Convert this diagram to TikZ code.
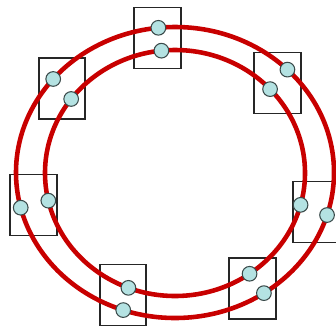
\documentclass[tikz,border=0pt]{standalone}
\usepackage{xcolor}
\usepackage{tikz}
\usetikzlibrary{calc}
\definecolor{ringred}{HTML}{C80000}
\definecolor{dotfill}{HTML}{B4E2E2}
\definecolor{dotline}{HTML}{3A4A4A}

\begin{document}
\begin{tikzpicture}[
  x=0.03cm, y=-0.03cm,
  ring/.style={draw=ringred, line width=3.9pt},
  cell/.style={draw=black!85, line width=1.5pt, minimum width=1.4cm,
               minimum height=1.83cm, inner sep=0pt},
  dot/.style={circle, draw=dotline, fill=dotfill, line width=0.9pt,
              minimum size=0.44cm, inner sep=0pt},
]
\useasboundingbox (0,0) rectangle (336,326);
% centres of the two rings
\coordinate (co) at (175,172.5);
\coordinate (ci) at (175,173);
% boxes
\node[cell] (b1) at (157.5,38) {};
\node[cell] (b2) at (62,88.5) {};
\node[cell] (b3) at (277.5,83) {};
\node[cell] (b4) at (33.5,205) {};
\node[cell] (b5) at (316,212) {};
\node[cell] (b6) at (123,295) {};
\node[cell] (b7) at (252.5,288.5) {};
% rings
\draw[ring] (co) ellipse [x radius=159, y radius=145.5];
\draw[ring] (ci) ellipse [x radius=130, y radius=123];
% dots on the outer ring
\node[dot] (o1) at ($(co)+(-96:159 and 145.5)$) {};
\node[dot] (o2) at ($(co)+(-140:159 and 145.5)$) {};
\node[dot] (o3) at ($(co)+(-45:159 and 145.5)$) {};
\node[dot] (o4) at ($(co)+(166:159 and 145.5)$) {};
\node[dot] (o5) at ($(co)+(17:159 and 145.5)$) {};
\node[dot] (o6) at ($(co)+(109:159 and 145.5)$) {};
\node[dot] (o7) at ($(co)+(56:159 and 145.5)$) {};
% dots on the inner ring
\node[dot] (i1) at ($(ci)+(-96:130 and 123)$) {};
\node[dot] (i2) at ($(ci)+(-143:130 and 123)$) {};
\node[dot] (i3) at ($(ci)+(-43:130 and 123)$) {};
\node[dot] (i4) at ($(ci)+(167:130 and 123)$) {};
\node[dot] (i5) at ($(ci)+(15:130 and 123)$) {};
\node[dot] (i6) at ($(ci)+(111:130 and 123)$) {};
\node[dot] (i7) at ($(ci)+(55:130 and 123)$) {};
\end{tikzpicture}
\end{document}
